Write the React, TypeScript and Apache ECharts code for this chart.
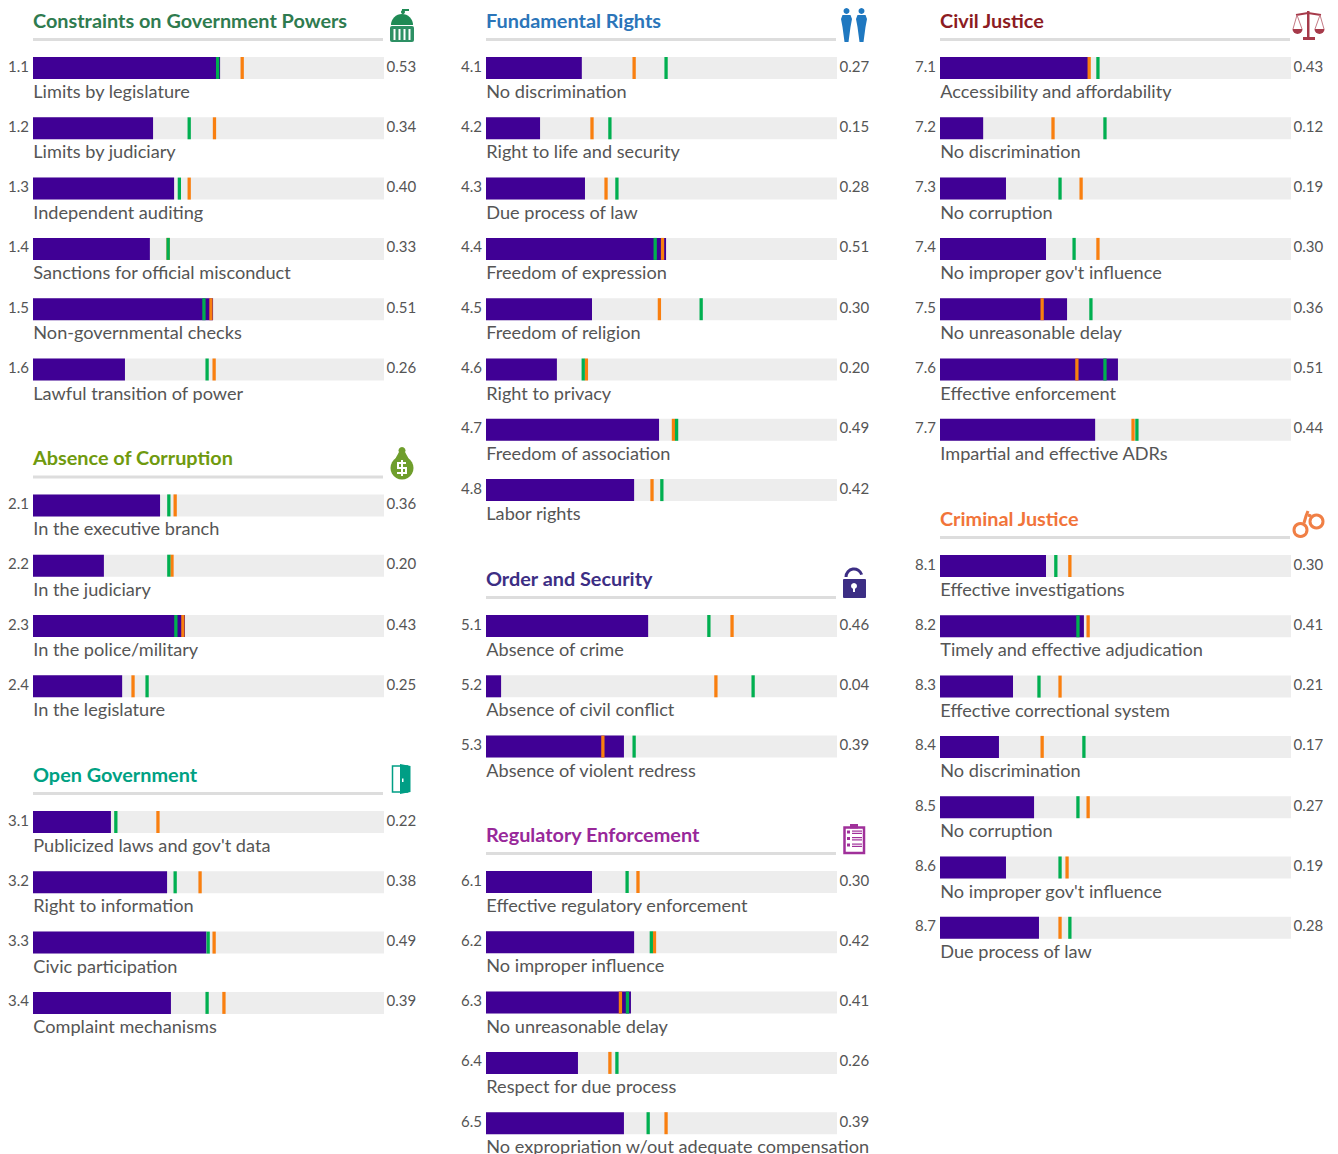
import React, { useEffect, useRef } from "react";
import * as echarts from "echarts";

const FONT = "Lato, 'Noto Sans', sans-serif";
const PURPLE = "#400095";
const TRACK = "#EDEDED";
const GREEN = "#00AF50";
const ORANGE = "#F97F0F";
const TEXT = "#555555";

// 1 Constraints on Government Powers
const f1Ids = ["1.1", "1.2", "1.3", "1.4", "1.5", "1.6"];
const f1Labels = ["Limits by legislature", "Limits by judiciary", "Independent auditing", "Sanctions for official misconduct", "Non-governmental checks", "Lawful transition of power"];
const f1Scores = [0.533, 0.342, 0.402, 0.333, 0.513, 0.262];
const f1Green = [0.526, 0.445, 0.417, 0.385, 0.487, 0.496];
const f1Orange = [0.596, 0.517, 0.445, 0.385, 0.507, 0.516];
// 2 Absence of Corruption
const f2Ids = ["2.1", "2.2", "2.3", "2.4"];
const f2Labels = ["In the executive branch", "In the judiciary", "In the police/military", "In the legislature"];
const f2Scores = [0.362, 0.202, 0.433, 0.254];
const f2Green = [0.387, 0.387, 0.407, 0.325];
const f2Orange = [0.405, 0.396, 0.427, 0.285];
// 3 Open Government
const f3Ids = ["3.1", "3.2", "3.3", "3.4"];
const f3Labels = ["Publicized laws and gov't data", "Right to information", "Civic participation", "Complaint mechanisms"];
const f3Scores = [0.222, 0.382, 0.494, 0.393];
const f3Green = [0.236, 0.405, 0.499, 0.496];
const f3Orange = [0.356, 0.476, 0.516, 0.544];
// 4 Fundamental Rights
const f4Ids = ["4.1", "4.2", "4.3", "4.4", "4.5", "4.6", "4.7", "4.8"];
const f4Labels = ["No discrimination", "Right to life and security", "Due process of law", "Freedom of expression", "Freedom of religion", "Right to privacy", "Freedom of association", "Labor rights"];
const f4Scores = [0.273, 0.154, 0.282, 0.513, 0.302, 0.202, 0.493, 0.422];
const f4Green = [0.513, 0.353, 0.373, 0.482, 0.613, 0.277, 0.543, 0.501];
const f4Orange = [0.422, 0.302, 0.342, 0.503, 0.494, 0.286, 0.534, 0.473];
// 5 Order and Security
const f5Ids = ["5.1", "5.2", "5.3"];
const f5Labels = ["Absence of crime", "Absence of civil conflict", "Absence of violent redress"];
const f5Scores = [0.462, 0.043, 0.393];
const f5Green = [0.635, 0.761, 0.422];
const f5Orange = [0.701, 0.655, 0.333];
// 6 Regulatory Enforcement
const f6Ids = ["6.1", "6.2", "6.3", "6.4", "6.5"];
const f6Labels = ["Effective regulatory enforcement", "No improper influence", "No unreasonable delay", "Respect for due process", "No expropriation w/out adequate compensation"];
const f6Scores = [0.302, 0.422, 0.413, 0.262, 0.393];
const f6Green = [0.402, 0.471, 0.403, 0.373, 0.462];
const f6Orange = [0.433, 0.48, 0.383, 0.353, 0.513];
// 7 Civil Justice
const f7Ids = ["7.1", "7.2", "7.3", "7.4", "7.5", "7.6", "7.7"];
const f7Labels = ["Accessibility and affordability", "No discrimination", "No corruption", "No improper gov't influence", "No unreasonable delay", "Effective enforcement", "Impartial and effective ADRs"];
const f7Scores = [0.427, 0.123, 0.188, 0.302, 0.362, 0.507, 0.442];
const f7Green = [0.45, 0.47, 0.342, 0.382, 0.43, 0.47, 0.561];
const f7Orange = [0.425, 0.322, 0.402, 0.45, 0.291, 0.39, 0.55];
// 8 Criminal Justice
const f8Ids = ["8.1", "8.2", "8.3", "8.4", "8.5", "8.6", "8.7"];
const f8Labels = ["Effective investigations", "Timely and effective adjudication", "Effective correctional system", "No discrimination", "No corruption", "No improper gov't influence", "Due process of law"];
const f8Scores = [0.302, 0.41, 0.208, 0.168, 0.268, 0.188, 0.282];
const f8Green = [0.33, 0.393, 0.282, 0.41, 0.393, 0.342, 0.37];
const f8Orange = [0.37, 0.422, 0.342, 0.291, 0.422, 0.362, 0.342];

const W = 351;
const ROW = 60.3;
const sections = [
  { title: "Constraints on Government Powers", color: "#2F7B4F", left: 33, first: 57, ids: f1Ids, labels: f1Labels, scores: f1Scores, green: f1Green, orange: f1Orange },
  { title: "Absence of Corruption", color: "#6F9A0E", left: 33, first: 494.4, ids: f2Ids, labels: f2Labels, scores: f2Scores, green: f2Green, orange: f2Orange },
  { title: "Open Government", color: "#00A183", left: 33, first: 811, ids: f3Ids, labels: f3Labels, scores: f3Scores, green: f3Green, orange: f3Orange },
  { title: "Fundamental Rights", color: "#2B75B9", left: 486, first: 57, ids: f4Ids, labels: f4Labels, scores: f4Scores, green: f4Green, orange: f4Orange },
  { title: "Order and Security", color: "#3C2E84", left: 486, first: 615, ids: f5Ids, labels: f5Labels, scores: f5Scores, green: f5Green, orange: f5Orange },
  { title: "Regulatory Enforcement", color: "#98289A", left: 486, first: 871, ids: f6Ids, labels: f6Labels, scores: f6Scores, green: f6Green, orange: f6Orange },
  { title: "Civil Justice", color: "#8C1B22", left: 940, first: 57, ids: f7Ids, labels: f7Labels, scores: f7Scores, green: f7Green, orange: f7Orange },
  { title: "Criminal Justice", color: "#F1743A", left: 940, first: 555, ids: f8Ids, labels: f8Labels, scores: f8Scores, green: f8Green, orange: f8Orange },
];

function icons(): any[] {
  const out: any[] = [];
  const fill = (c: string) => ({ fill: c });
  const line = (c: string, w: number) => ({ stroke: c, lineWidth: w, fill: "none" });
  // dome
  const g = "#1F8A55";
  out.push(
    { type: "circle", shape: { cx: 403, cy: 12, r: 2 }, style: fill(g) },
    { type: "rect", shape: { x: 402, y: 9, width: 7, height: 2 }, style: fill(g) },
    { type: "sector", shape: { cx: 402, cy: 25, r0: 0, r: 11, startAngle: Math.PI, endAngle: 2 * Math.PI }, style: fill(g) },
    { type: "rect", shape: { x: 390, y: 26, width: 24, height: 16, r: 2 }, style: fill("#2D9064") },
    ...[394.5, 399.5, 404.5, 409.5].map((x) => ({ type: "rect", shape: { x: x - 1, y: 29, width: 2, height: 11 }, style: fill("#FFFFFF") }))
  );
  // people
  const b = "#1F78C0";
  [846.5, 861.5].forEach((c) => {
    out.push(
      { type: "circle", shape: { cx: c, cy: 11, r: 3 }, style: fill(b) },
      { type: "polygon", shape: { points: [[c - 4, 15], [c + 4, 15], [c + 5.5, 19], [c + 4, 27], [c + 2, 42], [c - 2, 42], [c - 4, 27], [c - 5.5, 19]] }, style: fill(b) }
    );
  });
  // scales
  const r = "#A63A4A";
  out.push(
    { type: "rect", shape: { x: 1307, y: 11, width: 2.5, height: 27 }, style: fill(r) },
    { type: "rect", shape: { x: 1303, y: 37, width: 12, height: 3 }, style: fill(r) },
    { type: "polyline", shape: { points: [[1296, 15], [1308, 13], [1321, 15]] }, style: line(r, 2) },
    { type: "polyline", shape: { points: [[1293, 29], [1297, 15], [1302, 29]] }, style: line("#C47A85", 1) },
    { type: "polyline", shape: { points: [[1315, 29], [1320, 15], [1324, 29]] }, style: line("#C47A85", 1) },
    { type: "sector", shape: { cx: 1297.5, cy: 29, r0: 0, r: 5, startAngle: 0, endAngle: Math.PI }, style: fill(r) },
    { type: "sector", shape: { cx: 1319.5, cy: 29, r0: 0, r: 5, startAngle: 0, endAngle: Math.PI }, style: fill(r) }
  );
  // handcuffs
  const o = "#F07F45";
  out.push(
    { type: "circle", shape: { cx: 1300.5, cy: 530, r: 6.5 }, style: line(o, 3) },
    { type: "circle", shape: { cx: 1316.5, cy: 521.5, r: 6.5 }, style: line(o, 3) },
    { type: "polyline", shape: { points: [[1304, 523], [1306, 516], [1308, 511]] }, style: line(o, 3) },
    { type: "polyline", shape: { points: [[1308, 515], [1311, 516]] }, style: line(o, 3) }
  );
  // money bag
  const m = "#6F9E2C";
  out.push(
    { type: "circle", shape: { cx: 402, cy: 450.5, r: 3.5 }, style: fill(m) },
    { type: "polygon", shape: { points: [[399, 452], [405, 452], [411, 463], [393, 463]] }, style: fill(m) },
    { type: "circle", shape: { cx: 402, cy: 468, r: 11.5 }, style: fill(m) },
    { type: "polyline", shape: { points: [[406, 463], [398, 463], [398, 468], [406, 468], [406, 473], [397, 473]] }, style: line("#FFFFFF", 2) },
    { type: "rect", shape: { x: 401, y: 460, width: 2, height: 16 }, style: fill("#FFFFFF") }
  );
  // door
  const d = "#009E85";
  out.push(
    { type: "rect", shape: { x: 392.5, y: 766, width: 15, height: 26 }, style: line(d, 1.5) },
    { type: "polygon", shape: { points: [[400, 764], [410.5, 766], [410.5, 792], [400, 794]] }, style: fill(d) },
    { type: "rect", shape: { x: 402, y: 778.5, width: 1.5, height: 3.5 }, style: fill("#FFFFFF") }
  );
  // lock
  const l = "#3C2E84";
  out.push(
    { type: "arc", shape: { cx: 854, cy: 577, r: 8, startAngle: Math.PI, endAngle: 2 * Math.PI - 0.3 }, style: line(l, 3) },
    { type: "rect", shape: { x: 843, y: 579, width: 23, height: 19, r: 1 }, style: fill(l) },
    { type: "circle", shape: { cx: 854, cy: 586, r: 3 }, style: fill("#FFFFFF") },
    { type: "rect", shape: { x: 853, y: 587, width: 2, height: 5 }, style: fill("#FFFFFF") }
  );
  // clipboard
  const c = "#A0309A";
  out.push(
    { type: "rect", shape: { x: 844.5, y: 827.5, width: 19.5, height: 25.5 }, style: line(c, 2.5) },
    { type: "rect", shape: { x: 850, y: 824, width: 8, height: 4.5 }, style: fill(c) },
    ...[832, 838.5, 845].flatMap((y) => [
      { type: "rect", shape: { x: 847, y: y - 1.5, width: 3, height: 3 }, style: fill(c) },
      { type: "rect", shape: { x: 852, y: y - 1.5, width: 10, height: 1.2 }, style: fill(c) },
      { type: "rect", shape: { x: 852, y: y + 0.8, width: 10, height: 1.2 }, style: fill(c) },
    ])
  );
  return out;
}

function buildOption(): any {
  const grid: any[] = [];
  const xAxis: any[] = [];
  const yAxis: any[] = [];
  const series: any[] = [];
  const title: any[] = [];
  const graphic: any[] = [];

  sections.forEach((s, i) => {
    const titleTop = s.first - 47;
    grid.push({ left: s.left, top: s.first + 11 - ROW / 2, width: W, height: ROW * s.ids.length });
    xAxis.push({ gridIndex: i, type: "value", min: 0, max: 1, show: false });
    yAxis.push({
      gridIndex: i,
      type: "category",
      inverse: true,
      data: s.ids,
      axisLine: { show: false },
      axisTick: { show: false },
      splitLine: { show: false },
      axisLabel: { color: TEXT, fontFamily: FONT, fontSize: 15, margin: 4, verticalAlign: "bottom", lineHeight: 5 },
    });
    title.push({
      text: s.title,
      left: s.left,
      top: titleTop,
      padding: 0,
      textStyle: { color: s.color, fontFamily: FONT, fontSize: 19.85, fontWeight: "bold" },
    });
    graphic.push({ type: "rect", shape: { x: s.left, y: s.first - 19, width: W - 1, height: 3 }, style: { fill: "#DDDDDD" } });

    series.push(
      {
        type: "bar",
        xAxisIndex: i,
        yAxisIndex: i,
        data: s.scores.map(() => 1),
        barWidth: 22,
        barGap: "-100%",
        silent: true,
        itemStyle: { color: TRACK },
        label: {
          show: true,
          position: "right",
          distance: 2.5,
          offset: [0, -2.5],
          color: TEXT,
          fontFamily: FONT,
          fontSize: 15,
          formatter: (p: any) => s.scores[p.dataIndex].toFixed(2),
        },
      },
      { type: "bar", xAxisIndex: i, yAxisIndex: i, data: s.scores, barWidth: 22, barGap: "-100%", silent: true, itemStyle: { color: PURPLE } },
      {
        type: "scatter",
        xAxisIndex: i,
        yAxisIndex: i,
        data: s.orange.map((v, k) => [v, k]),
        symbol: "rect",
        symbolSize: [3.3, 22],
        silent: true,
        z: 3,
        itemStyle: { color: ORANGE, opacity: 1 },
      },
      {
        type: "scatter",
        xAxisIndex: i,
        yAxisIndex: i,
        data: s.green.map((v, k) => [v, k]),
        symbol: "rect",
        symbolSize: [3.3, 22],
        silent: true,
        z: 4,
        itemStyle: { color: GREEN, opacity: 1 },
      },
      {
        type: "scatter",
        xAxisIndex: i,
        yAxisIndex: i,
        data: s.labels.map((_, k) => [0, k]),
        symbolSize: 1,
        silent: true,
        z: 5,
        itemStyle: { color: "transparent", opacity: 1 },
        label: {
          show: true,
          position: "right",
          distance: 0,
          offset: [-0.2, 23],
          color: TEXT,
          fontFamily: FONT,
          fontSize: 18.15,
          formatter: (p: any) => s.labels[p.dataIndex],
        },
      }
    );
  });

  return { animation: false, backgroundColor: "#FFFFFF", title, grid, xAxis, yAxis, series, graphic: [...graphic, ...icons()] };
}

export default function App() {
  const ref = useRef<HTMLDivElement>(null);
  useEffect(() => {
    const chart = echarts.init(ref.current!, undefined, { renderer: "svg" });
    chart.setOption(buildOption());
    return () => chart.dispose();
  }, []);
  return <div ref={ref} style={{ position: "absolute", left: 0, top: 0, width: 1338, height: 1154, overflow: "hidden" }} />;
}
